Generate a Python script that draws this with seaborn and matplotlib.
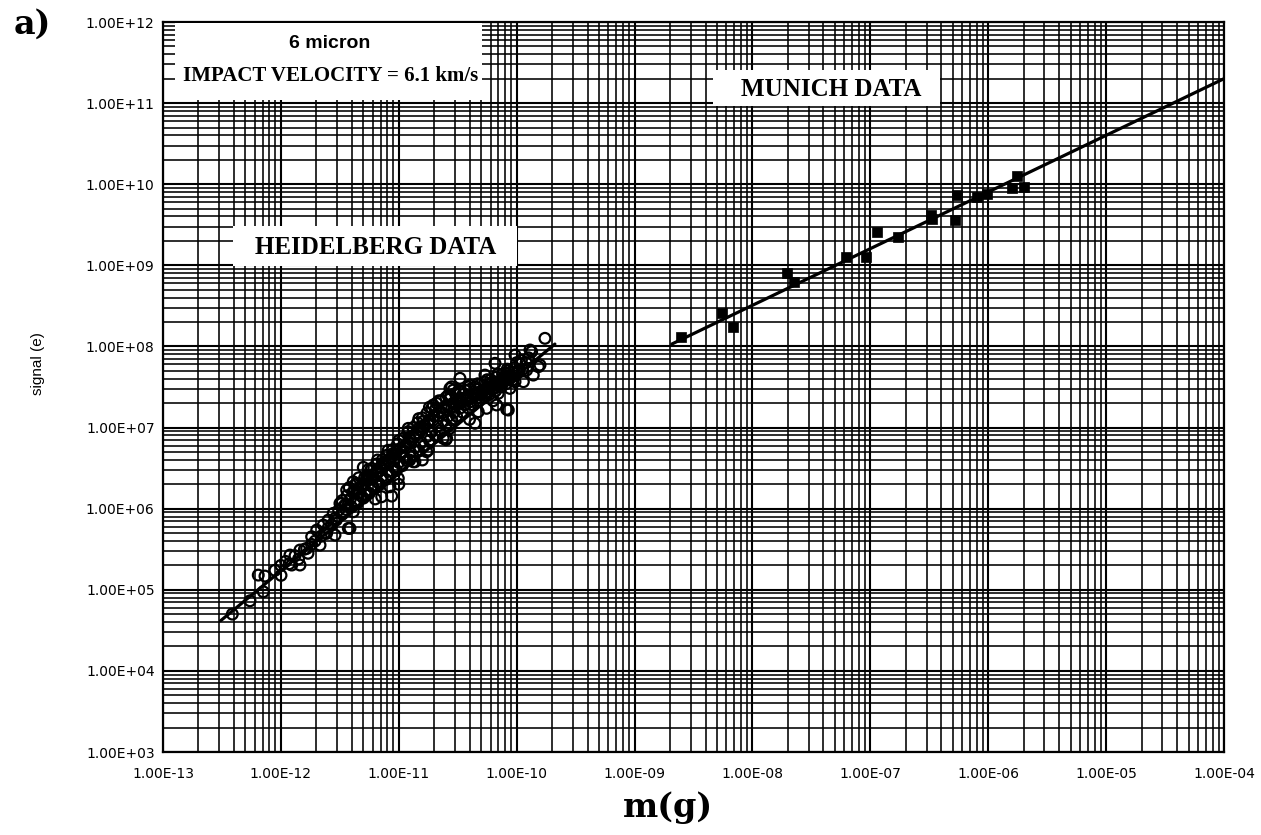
import numpy as np
import matplotlib
matplotlib.use("Agg")
import matplotlib.pyplot as plt
from matplotlib.ticker import FixedLocator, FuncFormatter, NullFormatter
from matplotlib.patches import Rectangle
import seaborn as sns

# ---------------------------------------------------------------------------
# Data (decade exponents: log10 of mass in g, log10 of signal in e)
# ---------------------------------------------------------------------------
heidelberg_log_mass = [
    # low-mass tail
    -12.412, -12.262, -12.149, -12.192, -12.135, -11.999, -11.908, -11.838, -11.923, -11.838,
    -11.781, -11.739, -11.668, -11.696, -11.640, -11.598, -11.541, -11.556, -11.499, -11.471,
    -11.428, -11.442, -11.386, -11.372, -11.301, -11.272, -11.216, -11.541, -11.612,
    -12.05, -12.00, -11.96, -11.93, -11.88, -11.85, -11.80, -11.77, -11.74, -11.71,
    -11.66, -11.63, -11.60, -11.57, -11.53, -11.51, -11.48, -11.45,
    # middle
    -11.301, -11.230, -11.159, -11.047, -11.075, -11.004, -11.145, -11.060, -11.075, -11.386,
    -11.272, -11.485, -10.907, -10.863, -10.750, -10.594, -10.552, -10.708, -10.905, -10.877,
    -10.764, -11.414,
    # high-mass end
    -9.760, -9.873, -9.802, -9.859, -10.014, -9.972, -9.915, -10.184, -10.085, -10.014,
    -9.943, -10.481, -10.566, -10.538, -10.269, -10.396, -10.085, -10.170, -10.255, -10.326,
    -10.354, -10.566, -10.623, -10.156, -10.057, -10.284, -10.424, -10.735, -10.820, -9.887,
    -9.816, -10.071,
    # dense core
    -11.46, -11.44, -11.41, -11.38, -11.36, -11.33, -11.31, -11.29, -11.26, -11.24,
    -11.22, -11.19, -11.17, -11.14, -11.12, -11.10, -11.08, -11.05, -11.03, -11.01,
    -10.98, -10.96, -10.94, -10.92, -10.90, -10.88, -10.86, -10.84, -10.82, -10.80,
    -10.78, -10.76, -10.74, -10.72, -10.70, -10.68, -10.66, -10.64, -10.62, -10.60,
    -10.58, -10.56, -10.54, -10.52, -10.50, -10.48, -10.46, -10.44, -10.42, -10.40,
    -10.37, -10.35, -10.33, -10.31, -10.29, -10.27, -10.24, -10.22, -10.20, -10.17,
    -10.15, -10.12, -10.10, -10.07, -10.05, -10.02, -9.99, -9.96,
    -11.02, -10.91, -10.79, -10.69, -10.57, -10.45, -10.34, -10.21, -10.11, -11.13,
    -11.27, -11.39,
    -11.48, -11.45, -11.43, -11.40, -11.37, -11.35, -11.32, -11.30, -11.28, -11.25,
    -11.23, -11.21, -11.18, -11.16, -11.14, -11.11, -11.09, -11.07, -11.04, -11.02,
    -11.00, -10.97, -10.95, -10.93, -10.90, -10.88, -10.86, -10.83, -10.81, -10.79,
    -10.76, -10.74, -10.72, -10.69, -10.67, -10.65, -10.62, -10.60, -10.58, -10.55,
    -10.53, -10.51, -10.48, -10.46, -10.44, -10.41, -10.39, -10.37, -10.34, -10.32,
    -10.30, -10.27, -10.25, -10.23, -10.20, -10.18, -10.16, -10.13, -10.11, -10.09,
    -10.06, -10.04, -10.02, -9.98, -9.95, -9.92, -9.90,
    -11.42, -11.34, -11.26, -11.18, -11.09, -11.00, -10.92, -10.83, -10.74, -10.66,
    -10.58, -10.49, -10.41, -10.33, -10.25, -10.16, -10.08, -10.00,
    -11.20, -11.00, -10.80, -10.60, -10.40, -10.20,
    -11.35, -11.31, -11.27, -11.23, -11.19, -11.15, -11.11, -11.07, -11.03, -10.99,
    -10.95, -10.91, -10.87, -10.83, -10.79, -10.75, -10.71, -10.67, -10.63, -10.59,
    -10.55, -10.51, -10.47, -10.43, -10.39, -10.35, -10.31, -10.27, -10.23, -10.19,
    -10.15, -10.11, -10.07, -10.03,
]
heidelberg_log_signal = [
    4.700, 4.864, 4.975, 5.181, 5.169, 5.178, 5.305, 5.305, 5.428, 5.490,
    5.510, 5.654, 5.551, 5.736, 5.798, 5.859, 5.675, 5.942, 6.065, 5.962,
    5.757, 6.229, 5.962, 6.291, 6.312, 6.168, 6.374, 5.880, 5.695,
    5.24, 5.30, 5.35, 5.32, 5.42, 5.38, 5.50, 5.45, 5.56, 5.60,
    5.66, 5.70, 5.76, 5.80, 5.86, 5.98, 6.10, 6.05,
    6.509, 6.497, 6.509, 6.682, 6.578, 6.374, 6.147, 6.155, 6.270, 6.332,
    6.374, 6.065, 6.599, 6.578, 6.723, 6.867, 7.503, 7.278, 6.805, 6.578,
    6.702, 5.757,
    8.100, 7.935, 7.771, 7.647, 7.894, 7.792, 7.709, 7.792, 7.668, 7.565,
    7.565, 7.607, 7.483, 7.462, 7.647, 7.524, 7.224, 7.278, 7.237, 7.195,
    7.052, 6.990, 6.867, 7.422, 7.483, 7.442, 7.339, 7.092, 7.010, 7.956,
    7.750, 7.216,
    6.04, 6.16, 6.12, 6.22, 6.31, 6.20, 6.27, 6.38, 6.35, 6.47,
    6.42, 6.55, 6.46, 6.60, 6.53, 6.66, 6.58, 6.73, 6.62, 6.80,
    6.70, 6.87, 6.78, 6.95, 6.85, 7.00, 6.92, 7.06, 6.97, 7.12,
    7.03, 7.18, 7.08, 7.24, 7.14, 7.30, 7.19, 7.33, 7.24, 7.37,
    7.27, 7.40, 7.30, 7.42, 7.33, 7.44, 7.36, 7.46, 7.38, 7.47,
    7.41, 7.50, 7.43, 7.53, 7.46, 7.56, 7.49, 7.59, 7.52, 7.62,
    7.55, 7.66, 7.58, 7.70, 7.62, 7.74, 7.68, 7.83,
    6.70, 6.88, 7.08, 7.22, 7.35, 7.41, 7.47, 7.55, 7.62, 6.57,
    6.40, 6.20,
    5.93, 5.99, 6.05, 6.02, 6.10, 6.07, 6.16, 6.13, 6.22, 6.19,
    6.28, 6.25, 6.33, 6.30, 6.40, 6.36, 6.46, 6.42, 6.51, 6.47,
    6.57, 6.53, 6.63, 6.59, 6.69, 6.65, 6.76, 6.71, 6.82, 6.77,
    6.89, 6.84, 6.95, 6.90, 7.02, 6.96, 7.08, 7.03, 7.14, 7.09,
    7.19, 7.14, 7.24, 7.19, 7.28, 7.24, 7.32, 7.28, 7.36, 7.33,
    7.40, 7.37, 7.44, 7.41, 7.48, 7.45, 7.52, 7.50, 7.56, 7.54,
    7.60, 7.58, 7.64, 7.70, 7.72, 7.80, 7.86,
    6.26, 6.38, 6.48, 6.60, 6.72, 6.84, 6.99, 7.11, 7.25, 7.33,
    7.40, 7.46, 7.50, 7.54, 7.59, 7.66, 7.72, 7.80,
    6.12, 6.30, 6.60, 6.85, 7.10, 7.33,
    6.24, 6.30, 6.35, 6.39, 6.45, 6.50, 6.56, 6.62, 6.67, 6.74,
    6.77, 6.82, 6.88, 6.93, 6.99, 7.05, 7.09, 7.14, 7.18, 7.22,
    7.25, 7.28, 7.31, 7.34, 7.37, 7.40, 7.44, 7.47, 7.50, 7.53,
    7.57, 7.60, 7.64, 7.68,
]

munich_mass = [2.46e-9, 5.55e-9, 6.84e-9, 1.95e-8, 2.25e-8, 6.17e-8, 9.18e-8, 1.13e-7, 1.73e-7,
               3.35e-7, 3.27e-7, 5.19e-7, 5.46e-7, 7.98e-7, 9.68e-7, 1.58e-6, 1.74e-6, 2.01e-6]
munich_signal = [1.29e8, 2.56e8, 1.72e8, 8.11e8, 6.17e8, 1.28e9, 1.28e9, 2.59e9, 2.25e9,
                 3.72e9, 4.17e9, 3.62e9, 7.36e9, 6.89e9, 7.57e9, 8.89e9, 1.26e10, 9.31e9]

# Power-law fit lines (end points)
heidelberg_fit_mass = [3.08e-13, 2.11e-10]
heidelberg_fit_signal = [4.15e4, 1.07e8]
munich_fit_mass = [2.07e-9, 1.0e-4]
munich_fit_signal = [1.07e8, 2.0e11]

x_decades = list(range(-13, -3))   # 1e-13 ... 1e-4
y_decades = list(range(3, 13))     # 1e3 ... 1e12
x_limits = (1e-13, 1e-4)
y_limits = (1e3, 1e12)

# ---------------------------------------------------------------------------
# Figure
# ---------------------------------------------------------------------------
sns.set_theme(style="white", rc={"text.color": "black", "axes.labelcolor": "black",
                                 "xtick.color": "black", "ytick.color": "black"})
plt.rcParams['font.family'] = ['DejaVu Sans']

W, H = 1261, 835
fig = plt.figure(figsize=(W / 100, H / 100), dpi=100)
fig.patch.set_facecolor("white")


def fx(px):
    return px / W


def fy(py):
    return 1 - py / H


ax = fig.add_axes([fx(163), fy(752), fx(1224) - fx(163), fy(22) - fy(752)])
ax.set_facecolor("white")

# Heidelberg measurements: open circles
sns.scatterplot(x=10 ** np.array(heidelberg_log_mass), y=10 ** np.array(heidelberg_log_signal),
                marker="o", s=60, facecolors="none", edgecolor="black", linewidth=1.6,
                ax=ax, zorder=5, legend=False)
# Munich measurements: filled squares
sns.scatterplot(x=munich_mass, y=munich_signal, marker="s", s=56, color="black",
                edgecolor="black", linewidth=0.5, ax=ax, zorder=5, legend=False)

# fitted power laws
sns.lineplot(x=heidelberg_fit_mass, y=heidelberg_fit_signal, color="black", linewidth=2.3,
             ax=ax, zorder=6, legend=False)
sns.lineplot(x=munich_fit_mass, y=munich_fit_signal, color="black", linewidth=2.3,
             ax=ax, zorder=6, legend=False)

ax.set_xscale("log")
ax.set_yscale("log")
ax.set_xlim(*x_limits)
ax.set_ylim(*y_limits)


def decade_minors(decades):
    return [m * 10.0 ** d for d in decades[:-1] for m in range(2, 10)]


# log grid, major and minor, in both directions (only inside the plotted range)
ax.xaxis.set_major_locator(FixedLocator([10.0 ** d for d in x_decades]))
ax.yaxis.set_major_locator(FixedLocator([10.0 ** d for d in y_decades]))
ax.xaxis.set_minor_locator(FixedLocator(decade_minors(x_decades)))
ax.yaxis.set_minor_locator(FixedLocator(decade_minors(y_decades)))
for axis in (ax.xaxis, ax.yaxis):
    axis.set_minor_formatter(NullFormatter())
    axis.set_major_formatter(FuncFormatter(lambda v, _: f"{v:.2E}"))

ax.grid(which="major", color="black", linewidth=1.5)
ax.grid(which="minor", color="black", linewidth=1.15)
ax.set_axisbelow(True)
for sp in ax.spines.values():
    sp.set_color("black")
    sp.set_linewidth(1.6)

ax.tick_params(which="major", direction="out", length=5, width=1, color="black",
               labelsize=10, labelcolor="black")
ax.tick_params(axis="x", which="major", pad=6)
ax.tick_params(axis="y", which="major", pad=1)
ax.tick_params(which="minor", length=0)
ax.set_xlabel("")
ax.set_ylabel("")


def white_box(x0, y0, x1, y1):
    """White label panel given in pixel corners."""
    fig.add_artist(Rectangle((fx(x0), fy(y1)), fx(x1) - fx(x0), fy(y0) - fy(y1),
                             transform=fig.transFigure, facecolor="white",
                             edgecolor="none", zorder=4))


white_box(175, 23, 482, 100)
white_box(713, 70, 940, 106)
white_box(233, 226, 517, 266)

serif = ["Liberation Serif", "DejaVu Serif"]
heavy_serif = ["DejaVu Serif"]
sans = ["Liberation Sans", "DejaVu Sans"]

fig.text(fx(330), fy(44), "6 micron", ha="center", va="center", fontsize=14,
         fontweight="bold", family=sans, zorder=7)
fig.text(fx(331), fy(76), "IMPACT VELOCITY = 6.1 km/s", ha="center", va="center",
         fontsize=15, fontweight="bold", family=serif, zorder=7)
fig.text(fx(831), fy(89), "MUNICH DATA", ha="center", va="center", fontsize=18,
         fontweight="bold", family=serif, zorder=7)
fig.text(fx(376), fy(247), "HEIDELBERG DATA", ha="center", va="center", fontsize=18,
         fontweight="bold", family=serif, zorder=7)

fig.text(fx(38), fy(364), "signal (e)", rotation=90, ha="center", va="center",
         fontsize=11, family=sans)
fig.text(fx(668), fy(808), "m(g)", ha="center", va="center", fontsize=24,
         fontweight="bold", family=heavy_serif)
fig.text(fx(14), fy(24), "a)", ha="left", va="center", fontsize=24,
         fontweight="bold", family=heavy_serif)

fig.savefig("out.png", dpi=100, facecolor="white")
